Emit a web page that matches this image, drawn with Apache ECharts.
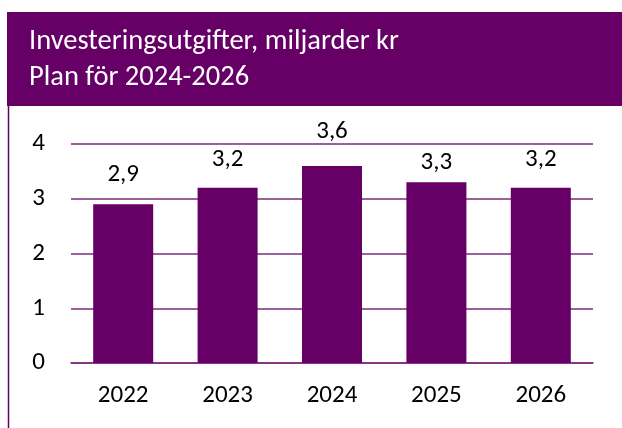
<!DOCTYPE html>
<html>
<head>
<meta charset="utf-8">
<script src="https://cdn.jsdelivr.net/npm/echarts@6/dist/echarts.min.js"></script>
<style>
  html, body { margin: 0; padding: 0; background: #fff; }
  #chart { width: 622px; height: 428px; }
</style>
</head>
<body>
<div id="chart"></div>
<script>
// data
var years = ['2022', '2023', '2024', '2025', '2026'];
var values = [2.9, 3.2, 3.6, 3.3, 3.2];
var yTicks = [0, 1, 2, 3, 4];
// small vertical nudges of the value labels, as placed in the original
var labelNudge = [-1, 0, -6, 9, 0];

var purple = '#660066';
var gridColor = '#7e2a7d';
var font = 'Carlito, Lato, sans-serif';

var myChart = echarts.init(document.getElementById('chart'));

var barData = values.map(function (v, i) {
  return { value: v, label: { offset: [0, labelNudge[i]] } };
});

var option = {
  backgroundColor: '#fff',
  animation: false,
  graphic: [
    {
      type: 'rect',
      shape: { x: 7, y: 12, width: 615, height: 94 },
      style: { fill: purple }
    },
    {
      type: 'line',
      shape: { x1: 8.5, y1: 106, x2: 8.5, y2: 428 },
      style: { stroke: purple, lineWidth: 1.5 }
    },
    {
      type: 'text',
      left: 29,
      top: 24,
      style: {
        text: 'Investeringsutgifter, miljarder kr\nPlan för 2024-2026',
        fill: '#fff',
        font: '28.5px ' + font,
        lineHeight: 36
      }
    }
  ],
  grid: { left: 71, right: 29, top: 144, bottom: 65 },
  xAxis: {
    type: 'category',
    data: years,
    axisLine: { show: true, lineStyle: { color: gridColor, width: 1.5 } },
    axisTick: { show: false },
    axisLabel: { color: '#000', fontSize: 25, fontFamily: font, margin: 20 }
  },
  yAxis: {
    type: 'value',
    min: yTicks[0],
    max: yTicks[yTicks.length - 1],
    interval: 1,
    axisLine: { show: false },
    axisTick: { show: false },
    axisLabel: { color: '#000', fontSize: 25, fontFamily: font, margin: 26 },
    splitLine: { lineStyle: { color: gridColor, width: 1.5 } }
  },
  series: [
    {
      type: 'bar',
      data: barData,
      barWidth: 60,
      itemStyle: { color: purple },
      label: {
        show: true,
        position: 'top',
        distance: 16,
        color: '#000',
        fontSize: 25,
        fontFamily: font,
        formatter: function (p) {
          return p.value.toFixed(1).replace('.', ',');
        }
      }
    }
  ]
};

myChart.setOption(option);
</script>
</body>
</html>
